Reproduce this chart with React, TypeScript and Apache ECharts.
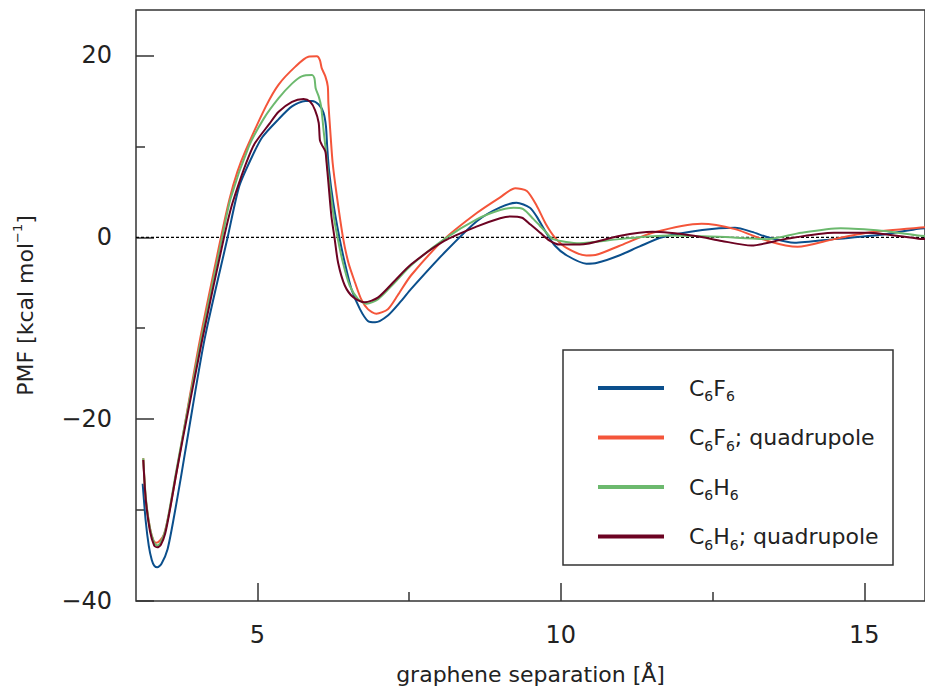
import React, { useEffect, useRef } from "react";
import * as echarts from "echarts";

const xC6F6 = [3.11, 3.16, 3.21, 3.26, 3.30, 3.35, 3.42, 3.52, 3.63, 3.74, 3.84, 4.13, 4.51, 4.70, 4.90, 5.08, 5.35, 5.57, 5.79, 5.90, 6.01, 6.09, 6.13, 6.15, 6.18, 6.25, 6.35, 6.44, 6.55, 6.69, 6.82, 6.94, 7.15, 7.37, 7.53, 8.08, 8.62, 9.00, 9.27, 9.49, 9.60, 9.75, 9.90, 10.10, 10.42, 10.60, 10.96, 11.30, 11.67, 12.33, 12.87, 13.15, 13.41, 13.85, 14.50, 15.32, 15.89, 16.00];
const yC6F6 = [-27.1, -31.2, -33.9, -35.5, -36.1, -36.3, -35.9, -34.3, -30.6, -26.4, -22.4, -11.2, 0, 5.6, 8.7, 11.0, 13.0, 14.4, 15.0, 15.0, 14.6, 13.7, 12.2, 10.0, 7.4, 3.8, 0, -2.8, -5.7, -7.9, -9.2, -9.35, -8.6, -7.0, -5.7, -1.7, 1.8, 3.3, 3.8, 3.25, 2.3, 0.6, -0.9, -2.0, -2.9, -2.8, -2.0, -1.0, 0, 0.8, 1.05, 0.6, 0, -0.6, -0.2, 0.3, 0.95, 1.0];

const xC6F6q = [3.12, 3.16, 3.23, 3.29, 3.34, 3.40, 3.46, 3.54, 3.65, 3.76, 4.05, 4.40, 4.54, 4.67, 4.81, 5.14, 5.35, 5.63, 5.84, 5.98, 6.03, 6.06, 6.12, 6.16, 6.17, 6.20, 6.24, 6.31, 6.41, 6.50, 6.61, 6.71, 6.82, 6.96, 7.15, 7.31, 7.53, 8.08, 8.62, 9.00, 9.25, 9.44, 9.60, 9.75, 9.90, 10.10, 10.42, 10.60, 10.96, 11.51, 12.32, 12.87, 13.41, 13.90, 14.50, 15.05, 15.89, 16.00];
const yC6F6q = [-24.3, -28.7, -32.0, -33.4, -33.6, -33.3, -32.7, -30.5, -26.5, -22.3, -11.4, 0, 4.2, 7.2, 9.6, 14.4, 16.8, 18.8, 19.85, 19.9, 19.5, 18.6, 17.7, 16.6, 14.75, 11.8, 8.2, 4.5, 0, -2.8, -5.0, -6.8, -7.9, -8.4, -7.9, -6.4, -4.2, -0.2, 2.7, 4.4, 5.4, 5.1, 3.5, 1.5, 0, -1.2, -2.0, -1.9, -0.95, 0.5, 1.5, 0.9, -0.4, -1.05, -0.2, 0.5, 1.05, 1.1];

const xC6H6 = [3.12, 3.16, 3.23, 3.30, 3.35, 3.41, 3.48, 3.55, 3.65, 3.76, 4.07, 4.42, 4.56, 4.86, 5.10, 5.35, 5.57, 5.73, 5.90, 5.94, 5.96, 6.01, 6.05, 6.09, 6.12, 6.16, 6.25, 6.32, 6.41, 6.52, 6.66, 6.80, 6.99, 7.26, 7.53, 8.08, 8.62, 9.00, 9.22, 9.38, 9.55, 9.65, 9.75, 9.87, 10.31, 10.96, 11.78, 12.60, 13.41, 13.96, 14.61, 15.32, 15.89, 16.00];
const yC6H6 = [-24.3, -28.5, -32.0, -33.6, -33.9, -33.5, -32.3, -30.0, -26.2, -22.2, -11.3, 0, 4.3, 10.0, 13.0, 15.3, 16.9, 17.7, 17.85, 17.5, 16.4, 15.5, 14.4, 11.8, 10.0, 7.4, 2.7, 0, -2.8, -5.3, -6.8, -7.3, -6.8, -5.0, -3.1, -0.2, 2.0, 3.0, 3.25, 3.1, 2.0, 1.3, 0.6, -0.2, -0.65, -0.2, 0.2, 0.05, -0.2, 0.5, 1.0, 0.7, 0.2, 0.15];

const xC6H6q = [3.12, 3.16, 3.23, 3.30, 3.35, 3.41, 3.48, 3.55, 3.65, 3.77, 4.09, 4.45, 4.60, 4.93, 5.20, 5.35, 5.57, 5.76, 5.87, 5.95, 6.01, 6.03, 6.06, 6.12, 6.14, 6.17, 6.22, 6.27, 6.33, 6.44, 6.58, 6.77, 6.99, 7.26, 7.53, 8.08, 8.62, 9.00, 9.17, 9.36, 9.50, 9.66, 9.80, 9.98, 10.31, 10.96, 11.51, 12.22, 12.65, 13.14, 13.69, 14.50, 15.05, 15.89, 16.00];
const yC6H6q = [-24.5, -28.8, -32.3, -33.9, -34.1, -33.8, -32.6, -30.3, -26.5, -22.2, -11.3, 0, 4.0, 10.0, 12.5, 13.8, 14.9, 15.2, 14.9, 14.0, 12.6, 10.7, 10.2, 9.45, 8.2, 6.0, 2.3, 0, -2.8, -5.3, -6.6, -7.15, -6.6, -4.8, -3.0, -0.4, 1.2, 2.1, 2.3, 2.15, 1.4, 0.5, -0.3, -0.8, -0.8, 0.15, 0.6, 0.15, -0.4, -0.9, -0.2, 0.5, 0.5, -0.15, -0.2];

const seriesNames = ["C6F6", "C6F6; quadrupole", "C6H6", "C6H6; quadrupole"];
const seriesColors = ["#0b4f8c", "#f4553a", "#6cb96e", "#6c0322"];
const xMajorTicks = [5, 10, 15];
const xMinorTicks = [7.5, 12.5];
const yMajorTicks = [-40, -20, 0, 20];
const yMinorTicks = [-30, -10, 10];

const FONT = "DejaVu Sans";
const INK = "#222";
const FRAME = "#333";

const zip = (xs: number[], ys: number[]) => xs.map((x, i) => [x, ys[i]]);

const legendRich: Record<string, string> = {
  "C6F6": "{c|C}{s|6}{n|F}{s|6}",
  "C6F6; quadrupole": "{c|C}{s|6}{n|F}{s|6}{n|; quadrupole}",
  "C6H6": "{c|C}{s|6}{n|H}{s|6}",
  "C6H6; quadrupole": "{c|C}{s|6}{n|H}{s|6}{n|; quadrupole}",
};

export default function App() {
  const ref = useRef<HTMLDivElement>(null);
  useEffect(() => {
    if (!ref.current) return;
    const chart = echarts.init(ref.current, null, { renderer: "svg" });
    const datasets = [zip(xC6F6, yC6F6), zip(xC6F6q, yC6F6q), zip(xC6H6, yC6H6), zip(xC6H6q, yC6H6q)];
    const axisCommon = {
      type: "value" as const,
      splitLine: { show: false },
      axisLine: { show: false, onZero: false },
    };
    chart.setOption({
      animation: false,
      backgroundColor: "#fff",
      grid: {
        left: 136,
        top: 10,
        width: 796,
        height: 592,
        show: true,
        borderColor: FRAME,
        borderWidth: 1.5,
        containLabel: false,
      },
      xAxis: [
        {
          ...axisCommon,
          min: 3,
          max: 16,
          position: "bottom",
          axisTick: { show: true, inside: true, length: 18, customValues: xMajorTicks, lineStyle: { color: FRAME, width: 1.5 } },
          axisLabel: { customValues: xMajorTicks, margin: 22, fontSize: 24, fontFamily: FONT, color: INK },
          name: "graphene separation [Å]",
          nameLocation: "middle",
          nameGap: 62,
          nameTextStyle: { fontSize: 22, fontFamily: FONT, color: INK },
        },
        {
          ...axisCommon,
          min: 3,
          max: 16,
          position: "bottom",
          axisTick: { show: true, inside: true, length: 9, customValues: xMinorTicks, lineStyle: { color: FRAME, width: 1.5 } },
          axisLabel: { show: false },
        },
      ],
      yAxis: [
        {
          ...axisCommon,
          min: -40,
          max: 25,
          position: "left",
          axisTick: { show: true, inside: true, length: 18, customValues: yMajorTicks, lineStyle: { color: FRAME, width: 1.5 } },
          axisLabel: {
            customValues: yMajorTicks,
            margin: 24,
            fontSize: 24,
            fontFamily: FONT,
            color: INK,
            formatter: (v: number) => (v < 0 ? "\u2212" + Math.abs(v) : String(v)),
          },
          name: "{n|PMF [kcal mol}{sup|\u22121}{n|]}",
          nameLocation: "middle",
          nameGap: 97,
          nameTextStyle: {
            fontFamily: FONT,
            color: INK,
            rich: {
              n: { fontSize: 22, fontFamily: FONT, color: INK, lineHeight: 28 },
              sup: { fontSize: 13, fontFamily: FONT, color: INK, lineHeight: 28, verticalAlign: "top" },
            },
          },
        },
        {
          ...axisCommon,
          min: -40,
          max: 25,
          position: "left",
          axisTick: { show: true, inside: true, length: 9, customValues: yMinorTicks, lineStyle: { color: FRAME, width: 1.5 } },
          axisLabel: { show: false },
        },
      ],
      legend: {
        data: seriesNames,
        orient: "vertical",
        left: 598,
        top: 377,
        padding: 0,
        itemGap: 23.5,
        itemWidth: 66,
        itemHeight: 4,
        icon: "rect",
        formatter: (name: string) => legendRich[name] || name,
        textStyle: {
          fontFamily: FONT,
          color: INK,
          rich: {
            c: { fontSize: 22, fontFamily: FONT, color: INK, lineHeight: 30, padding: [0, 0, 0, 20] },
            n: { fontSize: 22, fontFamily: FONT, color: INK, lineHeight: 30 },
            s: { fontSize: 14, fontFamily: FONT, color: INK, lineHeight: 20, verticalAlign: "bottom" },
          },
        },
      },
      graphic: [
        {
          type: "rect",
          shape: { x: 563, y: 350, width: 330, height: 215 },
          style: { fill: "none", stroke: FRAME, lineWidth: 1.5 },
          silent: true,
        },
      ],
      series: [
        {
          name: "zero",
          type: "line",
          data: [[3, 0], [16, 0]],
          symbol: "none",
          silent: true,
          lineStyle: { color: "#000", width: 1.2, type: [3, 2] },
          z: 1,
        },
        ...seriesNames.map((name, i) => ({
          name,
          type: "line",
          data: datasets[i],
          symbol: "none",
          smooth: 0.25,
          lineStyle: { color: seriesColors[i], width: 2 },
          itemStyle: { color: seriesColors[i] },
          z: 2 + i,
        })),
      ],
    });
    return () => chart.dispose();
  }, []);
  return <div ref={ref} style={{ position: "absolute", left: 0, top: 0, width: 925, height: 690 }} />;
}
